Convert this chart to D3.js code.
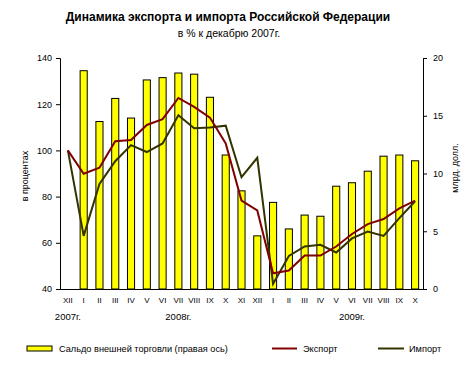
<!DOCTYPE html>
<html><head><meta charset="utf-8">
<script src="https://cdn.jsdelivr.net/npm/d3@7"></script>
<style>body{margin:0;background:#fff}svg{display:block;font-family:"Liberation Sans",Arial,sans-serif}</style>
</head><body><svg id="c" width="468" height="366"></svg>
<script>
const months = ["XII","I","II","III","IV","V","VI","VII","VIII","IX","X","XI","XII","I","II","III","IV","V","VI","VII","VIII","IX","X"];
const years = [{label:"2007г.", at:0},{label:"2008г.", at:7},{label:"2009г.", at:18}];
const balance = [null,18.9,14.5,16.5,14.8,18.1,18.3,18.7,18.6,16.6,11.6,8.5,4.6,7.5,5.2,6.4,6.3,8.9,9.2,10.2,11.5,11.6,11.1];
const exportP = [100,89.9,92.5,104.0,104.5,111,113.5,122.7,118.8,114.2,103,78.3,74,46.8,48,54.5,54.5,58.4,63.8,68.1,70.3,74.9,78.3];
const importP = [100,63.0,85.5,95.3,102.3,99.3,103,115.2,109.6,109.9,110.7,88.4,96.8,42.2,54.3,58.4,59.1,55.8,61.9,64.9,63.0,70.7,78.0];
const leftTicks = [40,60,80,100,120,140];
const rightTicks = [0,5,10,15,20];

const svg = d3.select("#c");
const L=60, R=423, T=58, B=289;
const idx = months.map((m,i)=>i);
const x = d3.scaleBand().domain(idx).range([L,R]).paddingInner(0.55).paddingOuter(0.275);
const cx = i => x(i)+x.bandwidth()/2;
const yL = d3.scaleLinear().domain([40,140]).range([B,T]);
const yR = d3.scaleLinear().domain([0,20]).range([B,T]);

// title
svg.append("text").attr("x",228).attr("y",21).attr("text-anchor","middle").attr("font-size",12).attr("font-weight","bold").text("Динамика экспорта и импорта Российской Федерации");
svg.append("text").attr("x",229).attr("y",37).attr("text-anchor","middle").attr("font-size",10.5).text("в % к декабрю 2007г.");

// bars
svg.append("g").selectAll("rect").data(idx.filter(i=>balance[i]!=null)).join("rect")
  .attr("x",i=>x(i)).attr("width",x.bandwidth())
  .attr("y",i=>yR(balance[i])).attr("height",i=>yR(0)-yR(balance[i]))
  .attr("fill","#ffff00").attr("stroke","#000").attr("stroke-width",1);

// lines
const line = arr => d3.line().x((d,i)=>cx(i)).y(d=>yL(d))(arr);
svg.append("path").attr("d",line(importP)).attr("fill","none").attr("stroke","#333300").attr("stroke-width",2);
svg.append("path").attr("d",line(exportP)).attr("fill","none").attr("stroke","#800000").attr("stroke-width",2);

// axes
const ga = svg.append("g").attr("transform",`translate(${L},0)`).call(d3.axisLeft(yL).tickValues(leftTicks).tickSize(4).tickPadding(4));
const gb = svg.append("g").attr("transform",`translate(${R},0)`).call(d3.axisRight(yR).tickValues(rightTicks).tickSize(4).tickPadding(6));
[ga,gb].forEach(g=>{g.select(".domain").attr("stroke","#000"); g.selectAll("text").attr("font-size",9).attr("font-family","Liberation Sans, Arial, sans-serif").attr("fill","#000");});
const gx = svg.append("g").attr("transform",`translate(0,${B})`).call(d3.axisBottom(x).tickSize(0).tickPadding(8).tickFormat(i=>months[i]));
gx.select(".domain").attr("stroke","#000");
gx.selectAll("text").attr("font-size",8).attr("font-family","Liberation Sans, Arial, sans-serif").attr("fill","#000");

years.forEach(y=>svg.append("text").attr("x",cx(y.at)).attr("y",320).attr("text-anchor","middle").attr("font-size",9.5).text(y.label));

svg.append("text").attr("transform","translate(28,176) rotate(-90)").attr("text-anchor","middle").attr("font-size",9).text("в процентах");
svg.append("text").attr("transform","translate(458,168) rotate(-90)").attr("text-anchor","middle").attr("font-size",9).text("млрд. долл.");

// legend
const lg = svg.append("g");
lg.append("rect").attr("x",27).attr("y",346).attr("width",25).attr("height",5).attr("fill","#ffff00").attr("stroke","#000");
lg.append("text").attr("x",59).attr("y",352).attr("font-size",9.2).text("Сальдо внешней торговли (правая ось)");
lg.append("line").attr("x1",272).attr("x2",297).attr("y1",348.5).attr("y2",348.5).attr("stroke","#800000").attr("stroke-width",2);
lg.append("text").attr("x",303).attr("y",352).attr("font-size",9.2).text("Экспорт");
lg.append("line").attr("x1",378).attr("x2",404).attr("y1",348.5).attr("y2",348.5).attr("stroke","#333300").attr("stroke-width",2);
lg.append("text").attr("x",409).attr("y",352).attr("font-size",9.2).text("Импорт");
</script></body></html>
